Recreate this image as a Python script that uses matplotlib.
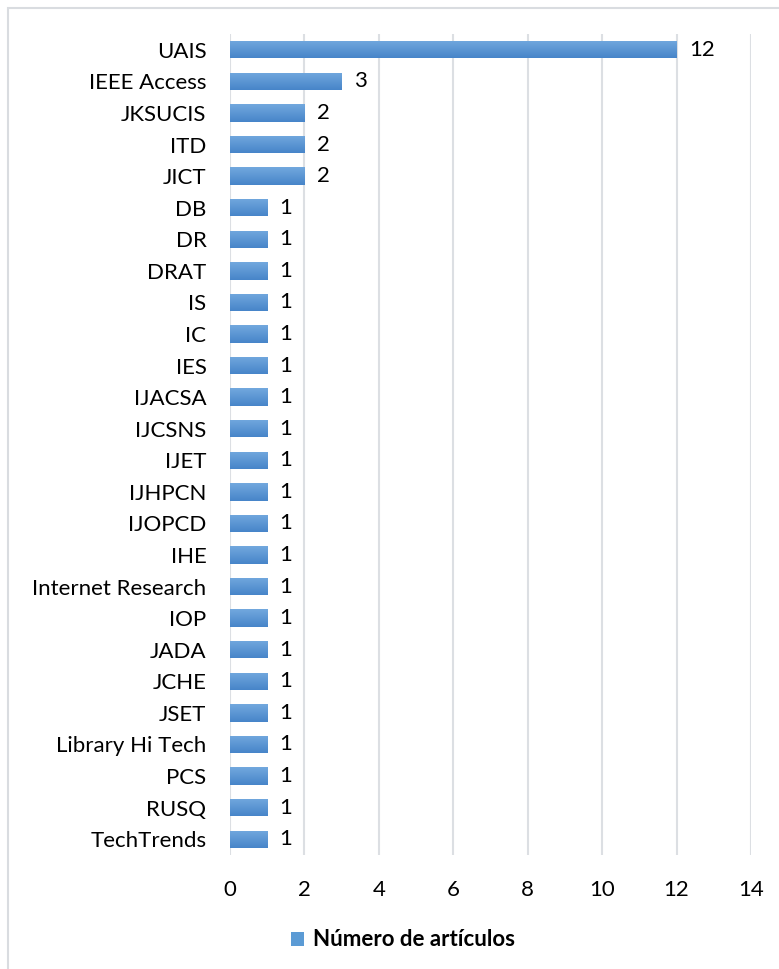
import numpy as np
import matplotlib
matplotlib.use("Agg")
import matplotlib.pyplot as plt
from matplotlib.colors import LinearSegmentedColormap
from matplotlib.patches import Patch, Rectangle

journals = ["UAIS", "IEEE Access", "JKSUCIS", "ITD", "JICT", "DB", "DR", "DRAT",
            "IS", "IC", "IES", "IJACSA", "IJCSNS", "IJET", "IJHPCN", "IJOPCD",
            "IHE", "Internet Research", "IOP", "JADA", "JCHE", "JSET",
            "Library Hi Tech", "PCS", "RUSQ", "TechTrends"]
articles = [12, 3, 2, 2, 2, 1, 1, 1, 1, 1, 1, 1, 1, 1, 1, 1, 1, 1, 1, 1, 1, 1, 1, 1, 1, 1]
x_ticks = [0, 2, 4, 6, 8, 10, 12, 14]
legend_label = "Número de artículos"

plt.rcParams["font.family"] = ["Lato", "DejaVu Sans"]
FS = 16

W, H = 779, 969
fig = plt.figure(figsize=(W / 100, H / 100), dpi=100)
ax = fig.add_axes([230 / W, 1 - 855 / H, 521 / W, 821 / H])

n = len(journals)
ypos = np.arange(n)[::-1]
bar_h = 0.55
grad_cmap = LinearSegmentedColormap.from_list("bar", ["#4785c9", "#72a8de"])
grad = np.linspace(0, 1, 50).reshape(-1, 1)

bars = ax.barh(ypos, articles, height=bar_h, color="#5b9bd5", zorder=2)
for b, y, v in zip(bars, ypos, articles):
    im = ax.imshow(grad, extent=[0, v, y - bar_h / 2, y + bar_h / 2], origin="lower",
                   aspect="auto", cmap=grad_cmap, zorder=3)
    im.set_clip_path(b)
    ax.text(v + 0.33, y, str(v), va="center", ha="left", fontsize=FS, color="#000000")

ax.set_xlim(0, 14)
ax.set_ylim(-0.5, n - 0.5)
ax.set_xticks(x_ticks)
ax.set_xticklabels([str(t) for t in x_ticks], fontsize=FS)
ax.set_yticks(ypos)
ax.set_yticklabels(journals, fontsize=FS)
ax.tick_params(axis="both", length=0)
ax.tick_params(axis="y", pad=17)
ax.tick_params(axis="x", pad=18)
ax.grid(axis="x", color="#dcdfe3", lw=1.5, zorder=0)
ax.set_axisbelow(True)
for s in ax.spines.values():
    s.set_visible(False)

fig.legend(handles=[Patch(facecolor="#5b9bd5", label=legend_label)], loc="center",
           bbox_to_anchor=(403 / W, 1 - 940 / H), frameon=False,
           prop={"weight": "bold", "size": FS}, handlelength=0.6, handleheight=0.6,
           handletextpad=0.4)

fig.patches.append(Rectangle((8 / W, -0.01), 1.0, 1 - 8 / H + 0.01,
                             transform=fig.transFigure, fill=False,
                             edgecolor="#d9dce0", lw=1.5))

fig.savefig("out.png", dpi=100)
